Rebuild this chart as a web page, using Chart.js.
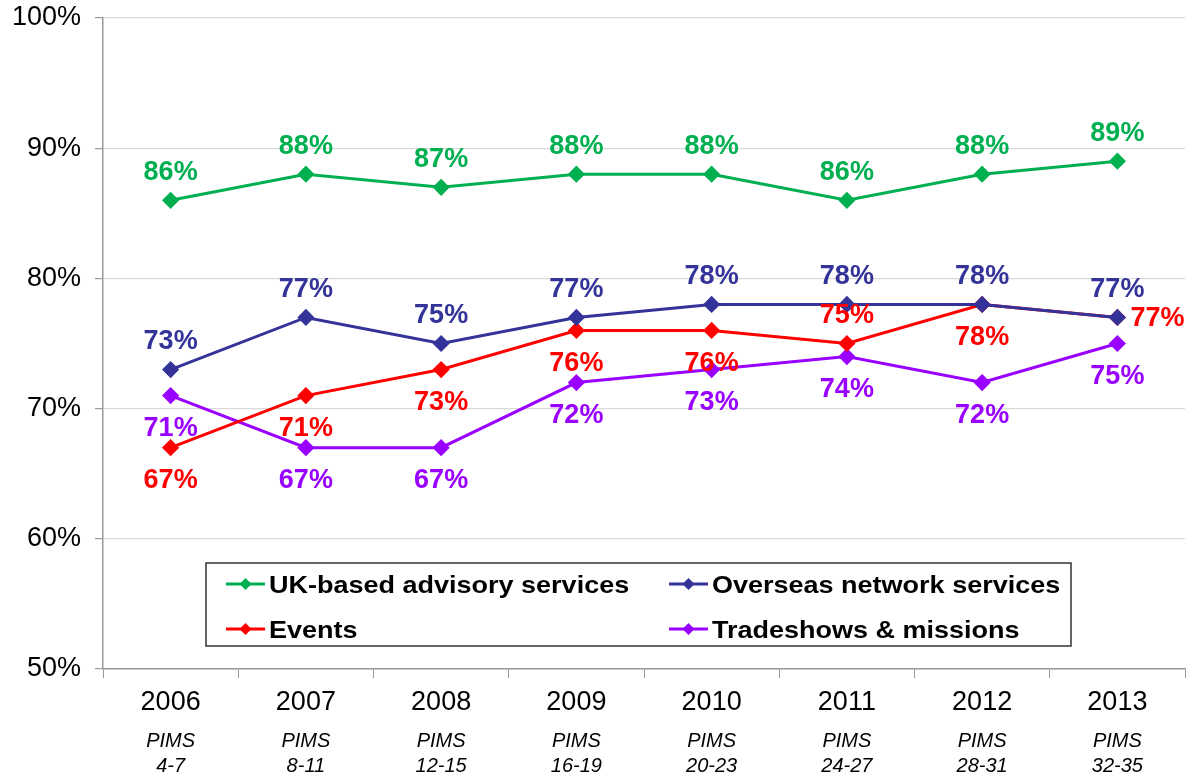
<!DOCTYPE html>
<html>
<head>
<meta charset="utf-8">
<script src="https://cdn.jsdelivr.net/npm/chart.js@4.4.1/dist/chart.umd.min.js"></script>
<style>
  html, body { margin: 0; padding: 0; background: #fff; }
  #wrap { width: 1195px; height: 778px; }
</style>
</head>
<body>
<div id="wrap"><canvas id="chart"></canvas></div>
<script>
const years = ["2006", "2007", "2008", "2009", "2010", "2011", "2012", "2013"];
const pims = ["4-7", "8-11", "12-15", "16-19", "20-23", "24-27", "28-31", "32-35"];
const ukAdvisory = [86, 88, 87, 88, 88, 86, 88, 89];
const overseas = [73, 77, 75, 77, 78, 78, 78, 77];
const events = [67, 71, 73, 76, 76, 75, 78, 77];
const tradeshows = [71, 67, 67, 72, 73, 74, 72, 75];

const FONT = "'Liberation Sans', Arial, sans-serif";

const series = (label, data, color, place) => ({
  label, data,
  borderColor: color,
  backgroundColor: color,
  borderWidth: 3,
  pointStyle: "rectRot",
  pointRadius: 6.5,
  pointHoverRadius: 6.5,
  tension: 0,
  labelPlace: place,
});

// value labels next to each point
const valueLabels = {
  id: "valueLabels",
  afterDatasetsDraw(chart) {
    const ctx = chart.ctx;
    ctx.save();
    ctx.font = "bold 27px " + FONT;
    ctx.textBaseline = "middle";
    chart.data.datasets.forEach((ds, i) => {
      const meta = chart.getDatasetMeta(i);
      meta.data.forEach((pt, j) => {
        const place = ds.labelPlace[j];
        let x = pt.x, y = pt.y;
        ctx.textAlign = "center";
        if (place === "above") y -= 29;
        else if (place === "below") y += 32;
        else { ctx.textAlign = "left"; x += 13; }
        ctx.fillStyle = ds.borderColor;
        ctx.fillText(ds.data[j] + "%", x, y + 1);
      });
    });
    ctx.restore();
  },
};

// boxed legend sitting inside the plot area
const boxLegend = {
  id: "boxLegend",
  afterDraw(chart) {
    const ctx = chart.ctx;
    const a = chart.chartArea;
    const left = a.left + 103, top = 563, w = 865, h = 83;
    ctx.save();
    ctx.fillStyle = "#fff";
    ctx.fillRect(left, top, w, h);
    ctx.strokeStyle = "#333";
    ctx.lineWidth = 1.5;
    ctx.strokeRect(left, top, w, h);
    ctx.textBaseline = "middle";
    const cols = [left + 20, left + 463];
    const rows = [top + 21, top + 66];
    chart.data.datasets.forEach((ds, i) => {
      const x = cols[i % 2], y = rows[Math.floor(i / 2)];
      ctx.strokeStyle = ds.borderColor;
      ctx.lineWidth = 3;
      ctx.beginPath();
      ctx.moveTo(x, y);
      ctx.lineTo(x + 39, y);
      ctx.stroke();
      ctx.fillStyle = ds.borderColor;
      ctx.beginPath();
      ctx.moveTo(x + 19.5, y - 6);
      ctx.lineTo(x + 25.5, y);
      ctx.lineTo(x + 19.5, y + 6);
      ctx.lineTo(x + 13.5, y);
      ctx.closePath();
      ctx.fill();
      // legend text is set a little wide
      ctx.save();
      ctx.translate(x + 43, y + 2);
      ctx.scale(1.125, 1);
      ctx.font = "bold 24px " + FONT;
      ctx.fillStyle = "#000";
      ctx.textAlign = "left";
      ctx.fillText(ds.label, 0, 0);
      ctx.restore();
    });
    ctx.restore();
  },
};

// italic PIMS range under each year
const pimsLabels = {
  id: "pimsLabels",
  afterDraw(chart) {
    const ctx = chart.ctx;
    const xs = chart.scales.x;
    ctx.save();
    ctx.font = "italic 20px " + FONT;
    ctx.fillStyle = "#000";
    ctx.textAlign = "center";
    ctx.textBaseline = "middle";
    pims.forEach((p, i) => {
      const x = xs.getPixelForTick(i);
      ctx.fillText("PIMS", x, 741);
      ctx.fillText(p, x, 766);
    });
    ctx.restore();
  },
};

new Chart(document.getElementById("chart"), {
  type: "line",
  data: {
    labels: years,
    datasets: [
      series("UK-based advisory services", ukAdvisory, "#00B050",
        ["above", "above", "above", "above", "above", "above", "above", "above"]),
      series("Overseas network services", overseas, "#333399",
        ["above", "above", "above", "above", "above", "above", "above", "above"]),
      series("Events", events, "#FF0000",
        ["below", "below", "below", "below", "below", "above", "below", "right"]),
      series("Tradeshows & missions", tradeshows, "#9900FF",
        ["below", "below", "below", "below", "below", "below", "below", "below"]),
    ],
  },
  options: {
    responsive: true,
    maintainAspectRatio: false,
    animation: false,
    layout: { padding: { top: 18, right: 10, left: 0, bottom: 0 } },
    scales: {
      x: {
        offset: true,
        grid: { display: true, drawOnChartArea: false, offset: true, tickLength: 9, color: "#999" },
        border: { color: "#999", width: 1.5 },
        ticks: { color: "#000", font: { family: FONT, size: 27 }, padding: 8, maxRotation: 0 },
        afterFit: (s) => { s.height = 109; },
      },
      y: {
        min: 50,
        max: 100,
        ticks: {
          stepSize: 10,
          color: "#000",
          font: { family: FONT, size: 27 },
          padding: 14,
          callback: (v) => v + "%",
        },
        grid: { color: "#d9d9d9", lineWidth: 1.2, tickLength: 8, tickColor: "#999" },
        border: { color: "#999", width: 1.5 },
        afterFit: (s) => { s.width = 103; s.paddingTop = 0; s.paddingBottom = 0; },
      },
    },
    plugins: {
      legend: { display: false },
      tooltip: { enabled: false },
    },
  },
  plugins: [valueLabels, boxLegend, pimsLabels],
});
</script>
</body>
</html>
